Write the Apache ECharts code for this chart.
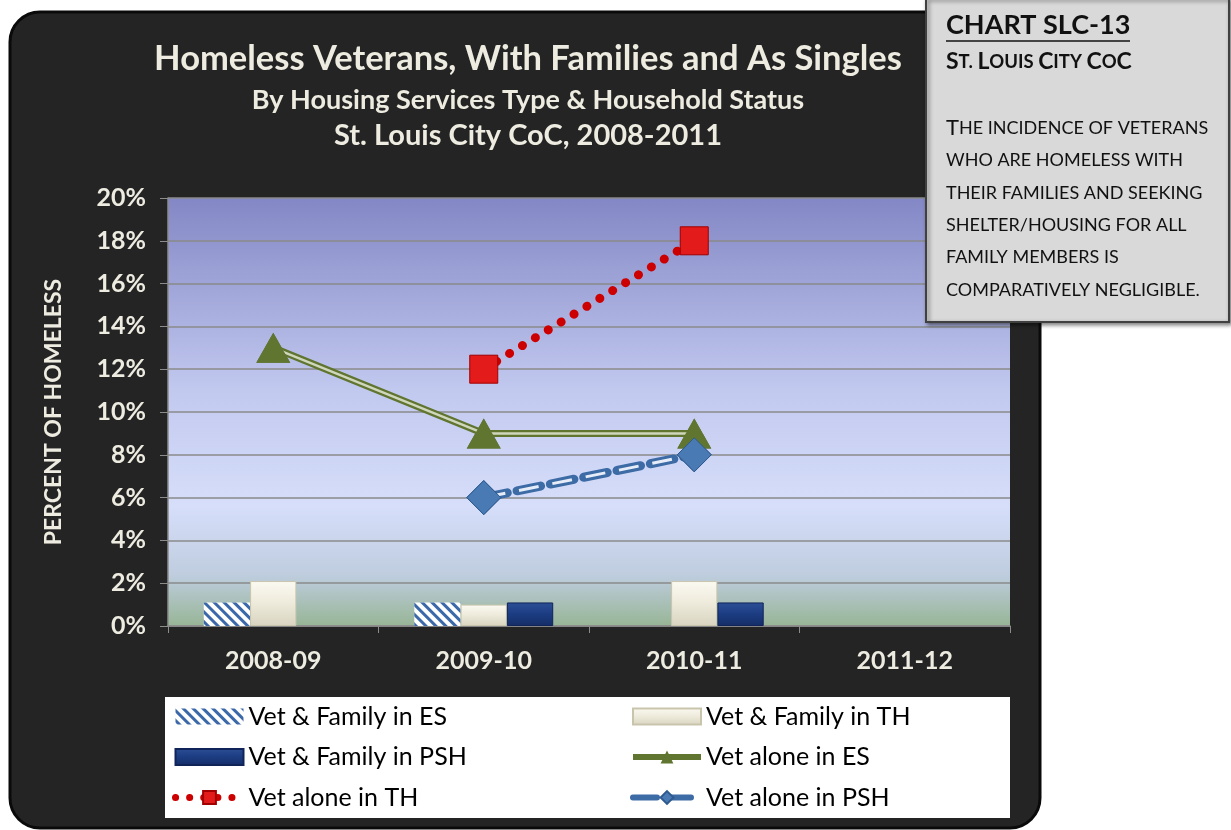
<!DOCTYPE html>
<html><head><meta charset="utf-8">
<script src="https://cdn.jsdelivr.net/npm/echarts@6/dist/echarts.min.js"></script>
<style>html,body{margin:0;padding:0;background:#fff;}#c{width:1231px;height:830px;}</style>
</head><body><div id="c"></div>
<script>
var categories = ['2008-09', '2009-10', '2010-11', '2011-12'];
var famES = [1.1, 1.1, null, null];
var famTH = [2.1, 1.0, 2.1, null];
var famPSH = [null, 1.1, 1.1, null];
var aloneES = [13, 9, 9, null];
var aloneTH = [null, 12, 18, null];
var alonePSH = [null, 6, 8, null];
var yTicks = {min: 0, max: 20, interval: 2};
var titleLines = ['Homeless Veterans, With Families and As Singles', 'By Housing Services Type & Household Status', 'St. Louis City CoC, 2008-2011'];
var boxTitle = 'CHART SLC-13';
var boxSub = '{A|S}{a|T. }{A|L}{a|OUIS }{A|C}{a|ITY }{A|C}{a|O}{A|C}';
var boxBody = [
  '{A|T}{a|HE INCIDENCE OF VETERANS}',
  '{a|WHO ARE HOMELESS WITH}',
  '{a|THEIR FAMILIES AND SEEKING}',
  '{a|SHELTER/HOUSING FOR ALL}',
  '{a|FAMILY MEMBERS IS}',
  '{a|COMPARATIVELY NEGLIGIBLE.}'
];

var FONT = 'Lato';
var chart = echarts.init(document.getElementById('c'));
var white = '#eeece1';
var ZL = 2;

var bodyGraphics = boxBody.map(function(t, i){
  return {type:'text', zlevel:ZL, z:10, x: 946, y: 128 + i*32.4, style:{text:t, verticalAlign:'middle', rich:{A:{fontFamily:FONT, fontSize:22, fill:'#111'}, a:{fontFamily:FONT, fontSize:18, fill:'#111'}}}};
});

var legendText = {fontFamily:FONT, fontSize:25, color:'#000'};

var option = {
  animation: false,
  textStyle: {fontFamily: FONT},
  graphic: [
    {type:'rect', z:-10, x:10, y:12, shape:{width:1030, height:816, r:30}, style:{fill:'#242424', stroke:'#0a0a0a', lineWidth:3}},
    {type:'rect', z:-5, x:165, y:697, shape:{width:845, height:121}, style:{fill:'#ffffff'}},
    {type:'rect', zlevel:ZL, z:10, x:926, y:-2, shape:{width:303, height:324}, style:{fill:'#d9d9d9', stroke:'#404040', lineWidth:2, shadowBlur:4, shadowOffsetX:2, shadowOffsetY:2, shadowColor:'rgba(0,0,0,0.5)'}},
    {type:'text', zlevel:ZL, z:11, x:946, y:25, style:{text:boxTitle, verticalAlign:'middle', fontFamily:FONT, fontWeight:'bold', fontSize:27, fill:'#111'}},
    {type:'line', zlevel:ZL, z:11, shape:{x1:946, y1:41, x2:1130, y2:41}, style:{stroke:'#111', lineWidth:1.5}},
    {type:'text', zlevel:ZL, z:11, x:946, y:62, style:{text:boxSub, verticalAlign:'middle', rich:{A:{fontFamily:FONT, fontWeight:'bold', fontSize:23, fill:'#111'}, a:{fontFamily:FONT, fontWeight:'bold', fontSize:18.5, fill:'#111'}}}}
  ].concat(bodyGraphics),
  title: [
    {text: titleLines[0], left: 523, textAlign:'center', top: 36, textStyle:{fontFamily:FONT, fontWeight:'bold', fontSize:34.5, color:white}},
    {text: titleLines[1], left: 523, textAlign:'center', top: 82, textStyle:{fontFamily:FONT, fontWeight:'bold', fontSize:27, color:white}},
    {text: titleLines[2], left: 523, textAlign:'center', top: 116, textStyle:{fontFamily:FONT, fontWeight:'bold', fontSize:29, color:white}}
  ],
  grid: {left:168, right:221, top:198, bottom:204, show:true, borderWidth:0,
    backgroundColor: new echarts.graphic.LinearGradient(0,0,0,1,[
      {offset:0, color:'#8387c5'}, {offset:0.45, color:'#c2c9ef'}, {offset:0.72, color:'#d6defa'},
      {offset:0.88, color:'#bfcddf'}, {offset:1, color:'#97b596'}])},
  legend: [
    {left:167, top:699, orient:'vertical', itemWidth:68, itemHeight:16, itemGap:15.5,
     textStyle:legendText,
     data:[{name:'Vet & Family in ES', icon:'rect'},{name:'Vet & Family in PSH', icon:'rect'},
           {name:'Vet alone in TH', lineStyle:{width:7, type:[0.1,14], cap:'round'}}]},
    {left:625, top:699, orient:'vertical', itemWidth:68, itemHeight:16, itemGap:15.5,
     textStyle:legendText,
     data:[{name:'Vet & Family in TH', icon:'rect'},{name:'Vet alone in ES', lineStyle:{width:6}},
           {name:'Vet alone in PSH', lineStyle:{width:6}}]}
  ],
  xAxis: {type:'category', data: categories,
    axisLine:{lineStyle:{color:'#8c8c8c', width:1.5}},
    axisTick:{show:true, length:7, lineStyle:{color:'#8c8c8c'}},
    axisLabel:{color:white, fontWeight:'bold', fontSize:25, fontFamily:FONT, margin:22}},
  yAxis: {type:'value', min:yTicks.min, max:yTicks.max, interval:yTicks.interval,
    axisLine:{show:true, lineStyle:{color:'#8c8c8c', width:1.5}},
    axisTick:{show:true, length:8, lineStyle:{color:'#8c8c8c'}},
    splitLine:{lineStyle:{color:'#8a8a8a', width:1.5}},
    axisLabel:{color:white, fontWeight:'bold', fontSize:25, fontFamily:FONT, margin:22, formatter:'{value}%'},
    name:'PERCENT OF HOMELESS', nameLocation:'middle', nameGap:103, nameRotate:90,
    nameTextStyle:{color:white, fontWeight:'bold', fontSize:23, fontFamily:FONT}},
  series: [
    {name:'Vet & Family in ES', type:'bar', data:famES, barGap:'0%', barCategoryGap:'34%',
     itemStyle:{color:'#ffffff', decal:{symbol:'rect', symbolSize:1, dashArrayX:[1,0], dashArrayY:[3,4], rotation:Math.PI/4, color:'#3a68a8'}}},
    {name:'Vet & Family in TH', type:'bar', data:famTH,
     itemStyle:{color:new echarts.graphic.LinearGradient(0,0,0,1,[{offset:0,color:'#fbfaf2'},{offset:0.5,color:'#eeeadb'},{offset:1,color:'#d8d4c0'}]), borderColor:'#c9c5ad', borderWidth:1}},
    {name:'Vet & Family in PSH', type:'bar', data:famPSH,
     itemStyle:{color:new echarts.graphic.LinearGradient(0,0,0,1,[{offset:0,color:'#2c4f96'},{offset:0.5,color:'#1c3c82'},{offset:1,color:'#142d66'}]), borderColor:'#10245a', borderWidth:1}},
    {name:'Vet alone in ES', type:'line', data:aloneES, symbol:'triangle', symbolSize:[34,30], z:3,
     itemStyle:{color:'#5f7530'}, lineStyle:{color:'#5f7530', width:7}},
    {name:'es-inner', type:'line', data:aloneES, symbol:'none', z:4, silent:true,
     lineStyle:{color:'#cfd6bc', width:2.5}},
    {name:'es-mark', type:'line', data:aloneES, symbol:'triangle', symbolSize:[34,30], z:5, silent:true,
     itemStyle:{color:'#5f7530'}, lineStyle:{width:0, opacity:0}},
    {name:'Vet alone in TH', type:'line', data:aloneTH, symbol:'rect', symbolSize:28, z:6,
     itemStyle:{color:'#e41b1b', borderColor:'#a00000', borderWidth:1},
     lineStyle:{color:'#cc0000', width:9, type:[0.1,15], cap:'round'}},
    {name:'Vet alone in PSH', type:'line', data:alonePSH, symbol:'diamond', symbolSize:[34,34], z:3,
     itemStyle:{color:'#4a7ab4', borderColor:'#2f5a8f', borderWidth:1},
     lineStyle:{color:'#3d6ba6', width:9, type:[24,10], cap:'round'}},
    {name:'psh-inner', type:'line', data:alonePSH, symbol:'none', z:4, silent:true,
     lineStyle:{color:'#e6edf8', width:3, type:[20,14], dashOffset:-2}},
    {name:'psh-mark', type:'line', data:alonePSH, symbol:'diamond', symbolSize:[34,34], z:5, silent:true,
     itemStyle:{color:'#4a7ab4', borderColor:'#2f5a8f', borderWidth:1}, lineStyle:{width:0, opacity:0}}
  ]
};
chart.setOption(option);
</script></body></html>
